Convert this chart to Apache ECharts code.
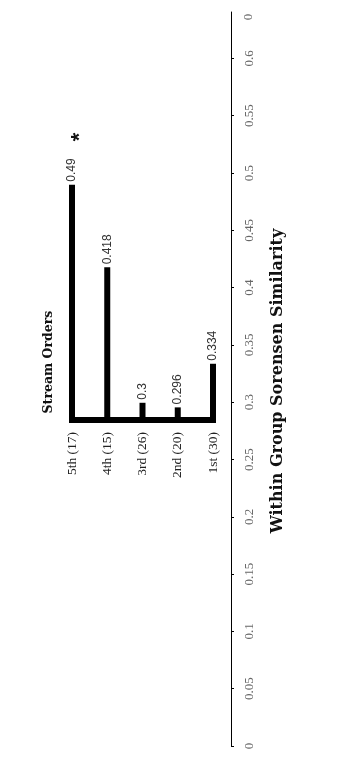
<!DOCTYPE html>
<html>
<head>
<meta charset="utf-8">
<script src="https://cdn.jsdelivr.net/npm/echarts@6/dist/echarts.min.js"></script>
<style>
html,body{margin:0;padding:0;background:#fff;}
#c{width:344px;height:762px;}
</style>
</head>
<body>
<div id="c"></div>
<script>
// Data
var categories = ['5th (17)', '4th (15)', '3rd (26)', '2nd (20)', '1st (30)'];
var similarity = [0.49, 0.418, 0.3, 0.296, 0.334];
var baseValue = 0.285;      // value at which the bars' baseline sits
var axisMin = 0, axisMax = 0.6405, axisInterval = 0.05;

var baseSeries = categories.map(function () { return baseValue; });
var barSeries = similarity.map(function (v) { return +(v - baseValue).toFixed(4); });

var chart = echarts.init(document.getElementById('c'));
var serif = '"Liberation Serif", "DejaVu Serif", serif';
var wideSerif = '"DejaVu Serif", serif';
var sans = '"Liberation Sans", Arial, sans-serif';

chart.setOption({
  animation: false,
  backgroundColor: '#fff',
  grid: [
    { left: 72, right: 131, top: 12, bottom: 342 },
    { left: 72, right: 113, top: 12, bottom: 16 }
  ],
  xAxis: [
    {
      gridIndex: 0, type: 'category', data: categories, boundaryGap: false,
      axisLine: { lineStyle: { color: '#000', width: 6, cap: 'square' } },
      axisTick: { show: false },
      axisLabel: { rotate: 90, margin: 12, fontFamily: serif, fontSize: 13.5, color: '#222' }
    },
    { gridIndex: 1, type: 'category', data: categories, show: false }
  ],
  yAxis: [
    { gridIndex: 0, type: 'value', min: baseValue, max: axisMax, show: false, splitLine: { show: false } },
    {
      gridIndex: 1, type: 'value', position: 'right', min: axisMin, max: axisMax, interval: axisInterval,
      axisLine: { show: true, lineStyle: { color: '#000', width: 1 } },
      axisTick: { show: true, length: 3, lineStyle: { color: '#000' } },
      splitLine: { show: false },
      axisLabel: {
        rotate: 90, margin: 12, fontFamily: serif, fontSize: 13, color: '#666',
        showMaxLabel: false
      }
    }
  ],
  series: [
    {
      type: 'bar', xAxisIndex: 0, yAxisIndex: 0, stack: 's', data: baseSeries,
      barWidth: 6, clip: false, silent: true,
      itemStyle: { color: 'rgba(0,0,0,0)' }
    },
    {
      type: 'bar', xAxisIndex: 0, yAxisIndex: 0, stack: 's', data: barSeries,
      barWidth: 6, clip: false,
      itemStyle: { color: '#000' },
      label: {
        show: true, position: 'top', rotate: 90, align: 'left', verticalAlign: 'middle',
        distance: 3, fontFamily: sans, fontSize: 12, color: '#333',
        formatter: function (p) { return String(similarity[p.dataIndex]); }
      }
    }
  ],
  graphic: [
    {
      type: 'text', x: 249, y: 17, rotation: Math.PI / 2,
      style: { text: '0', fontFamily: serif, fontSize: 13, fill: '#666', align: 'center', verticalAlign: 'middle' }
    },
    {
      type: 'text', x: 278, y: 381, rotation: Math.PI / 2,
      style: { text: 'Within Group Sorensen Similarity', fontFamily: wideSerif, fontWeight: 'bold', fontSize: 16, fill: '#111', align: 'center', verticalAlign: 'middle' }
    },
    {
      type: 'text', x: 49, y: 362, rotation: Math.PI / 2,
      style: { text: 'Stream Orders', fontFamily: wideSerif, fontWeight: 'bold', fontSize: 12.5, fill: '#111', align: 'center', verticalAlign: 'middle' }
    },
    {
      type: 'text', x: 80, y: 137, rotation: Math.PI / 2,
      style: { text: '*', fontFamily: sans, fontWeight: 'bold', fontSize: 22, fill: '#111', align: 'center', verticalAlign: 'middle' }
    }
  ]
});
</script>
</body>
</html>
